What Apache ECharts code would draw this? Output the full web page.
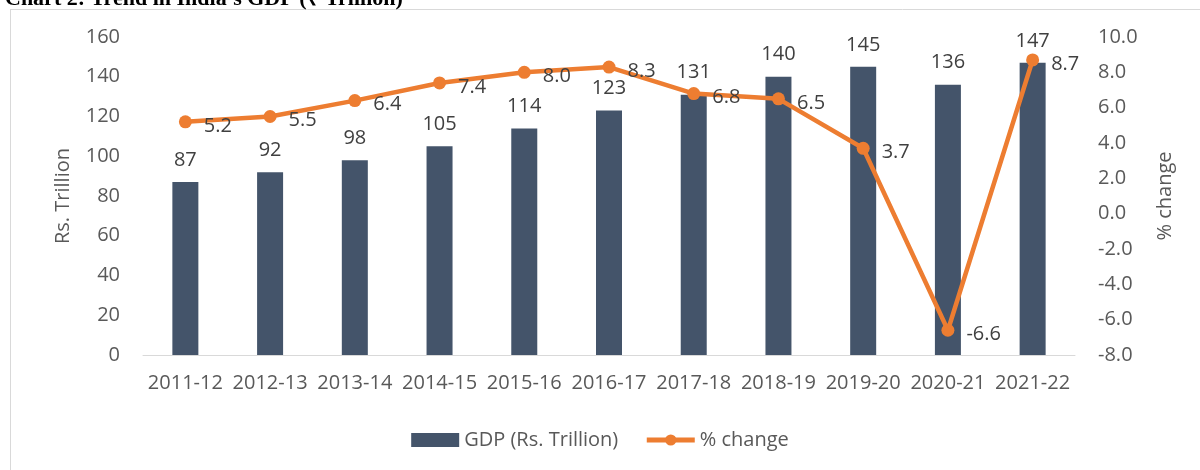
<!DOCTYPE html>
<html>
<head>
<meta charset="utf-8">
<script src="https://cdn.jsdelivr.net/npm/echarts@6/dist/echarts.min.js"></script>
<style>
  html, body { margin: 0; padding: 0; background: #fff; }
  #chart { width: 1200px; height: 470px; }
</style>
</head>
<body>
<div id="chart"></div>
<script>
// India GDP trend
var years = ['2011-12', '2012-13', '2013-14', '2014-15', '2015-16', '2016-17', '2017-18', '2018-19', '2019-20', '2020-21', '2021-22'];
var gdp = [87, 92, 98, 105, 114, 123, 131, 140, 145, 136, 147];
var pctChange = [5.2, 5.5, 6.4, 7.4, 8.0, 8.3, 6.8, 6.5, 3.7, -6.6, 8.7];

var font = '"Open Sans", sans-serif';
var textCol = '#595959';
var barCol = '#44546A';
var lineCol = '#ED7D31';

var chart = echarts.init(document.getElementById('chart'));
chart.setOption({
  animation: false,
  textStyle: { fontFamily: font },
  title: {
    text: 'Chart 2: Trend in India\u2019s GDP (\u20B9 Trillion)',
    left: 0, top: -17,
    textStyle: { fontFamily: '"Liberation Serif", serif', fontWeight: 'bold', fontSize: 22, color: '#000' }
  },
  graphic: [
    { type: 'line', shape: { x1: 10, y1: 9.5, x2: 1200, y2: 9.5 }, style: { stroke: '#d9d9d9', lineWidth: 1 } },
    { type: 'line', shape: { x1: 10.5, y1: 9, x2: 10.5, y2: 470 }, style: { stroke: '#d9d9d9', lineWidth: 1 } }
  ],
  legend: {
    bottom: 15, left: 'center', itemGap: 26,
    textStyle: { fontFamily: font, fontSize: 20, color: textCol },
    data: [
      { name: 'GDP (Rs. Trillion)', icon: 'rect', itemStyle: { color: barCol } },
      { name: '% change', lineStyle: { width: 5 } }
    ],
    itemWidth: 48, itemHeight: 14
  },
  grid: { left: 143, right: 125, top: 37, bottom: 115 },
  xAxis: {
    type: 'category', data: years,
    axisLine: { lineStyle: { color: '#d9d9d9', width: 1 } },
    axisTick: { show: false },
    axisLabel: { color: textCol, fontSize: 20, fontFamily: font, margin: 18, interval: 0 }
  },
  yAxis: [
    {
      type: 'value', min: 0, max: 160, interval: 20,
      name: 'Rs. Trillion', nameLocation: 'middle', nameGap: 70, nameRotate: 90,
      nameTextStyle: { color: textCol, fontSize: 20, fontFamily: font },
      axisLine: { show: false }, axisTick: { show: false }, splitLine: { show: false },
      axisLabel: { color: textCol, fontSize: 20, fontFamily: font, margin: 23 }
    },
    {
      type: 'value', min: -8, max: 10, interval: 2,
      name: '% change', nameLocation: 'middle', nameGap: 80, nameRotate: 90,
      nameTextStyle: { color: textCol, fontSize: 20, fontFamily: font },
      axisLine: { show: false }, axisTick: { show: false }, splitLine: { show: false },
      axisLabel: { color: textCol, fontSize: 20, fontFamily: font, margin: 23,
        formatter: function (v) { return v.toFixed(1); } }
    }
  ],
  series: [
    {
      name: 'GDP (Rs. Trillion)', type: 'bar', data: gdp, yAxisIndex: 0,
      barWidth: 26,
      itemStyle: { color: barCol },
      label: { show: true, position: 'top', distance: 12, color: '#404040', fontSize: 20, fontFamily: font }
    },
    {
      name: '% change', type: 'line', data: pctChange, yAxisIndex: 1,
      symbol: 'circle', symbolSize: 13,
      lineStyle: { color: lineCol, width: 4.5 },
      itemStyle: { color: lineCol },
      label: { show: true, position: 'right', distance: 12, offset: [0, 4], color: '#404040', fontSize: 20, fontFamily: font,
        formatter: function (p) { return p.value.toFixed(1); } }
    }
  ]
});
</script>
</body>
</html>
